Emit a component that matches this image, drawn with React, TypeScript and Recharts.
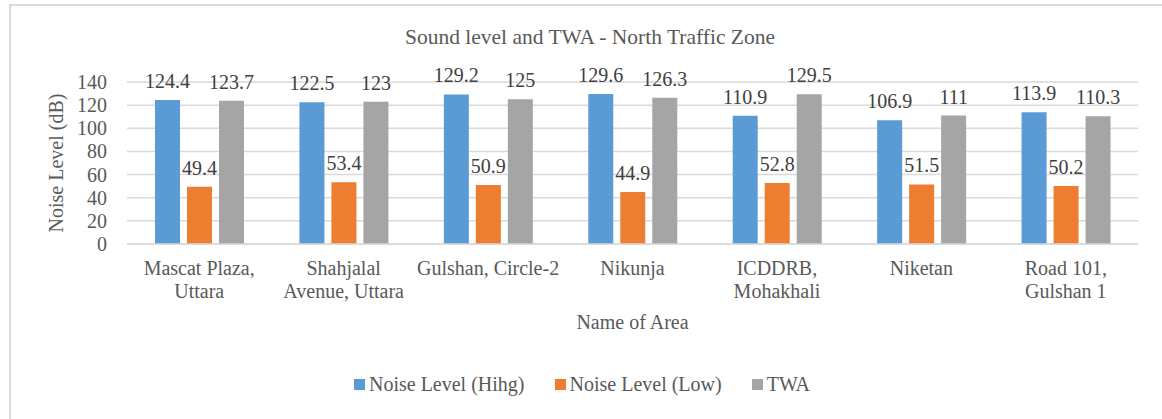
import {Bar, BarChart, CartesianGrid, LabelList, XAxis, YAxis} from "recharts";

const areas = [
    "Mascat Plaza,\nUttara",
    "Shahjalal\nAvenue, Uttara",
    "Gulshan, Circle-2",
    "Nikunja",
    "ICDDRB,\nMohakhali",
    "Niketan",
    "Road 101,\nGulshan 1",
];
const noiseHigh = [124.4, 122.5, 129.2, 129.6, 110.9, 106.9, 113.9];
const noiseLow = [49.4, 53.4, 50.9, 44.9, 52.8, 51.5, 50.2];
const twa = [123.7, 123, 125, 126.3, 129.5, 111, 110.3];
const yTicks = [0, 20, 40, 60, 80, 100, 120, 140];

const series = [
    {key: "high", name: "Noise Level (Hihg)", color: "#5B9BD5"},
    {key: "low", name: "Noise Level (Low)", color: "#ED7D31"},
    {key: "twa", name: "TWA", color: "#A5A5A5"},
];

const data = areas.map((area, i) => ({
    area,
    high: noiseHigh[i],
    low: noiseLow[i],
    twa: twa[i],
}));

const FONT = "'Liberation Serif', 'Times New Roman', serif";
const TEXT = "#595959";

const AreaTick = (props: any) => {
    const {x, y, payload} = props;
    const lines = String(payload.value).split("\n");
    return (
        <text x={x} y={y + 29} textAnchor="middle" fill={TEXT} fontSize={20} style={{fontFamily: FONT}}>
            {lines.map((line, i) => (
                <tspan key={i} x={x} dy={i === 0 ? 0 : 23}>{line}</tspan>
            ))}
        </text>
    );
};

const ValueTick = (props: any) => {
    const {x, y, payload} = props;
    return (
        <text x={x} y={y} dy={7} textAnchor="end" fill={TEXT} fontSize={20} style={{fontFamily: FONT}}>
            {payload.value}
        </text>
    );
};

const BarValue = (props: any) => {
    const {x, y, width, value} = props;
    return (
        <text x={x + width / 2} y={y - 12} textAnchor="middle" fill="#404040" fontSize={20}
              style={{fontFamily: FONT}}>
            {value}
        </text>
    );
};

const App = () => {
    return (
        <div style={{
            position: "absolute", left: 0, top: 0, width: 1162, height: 419, overflow: "hidden",
            background: "#fff", fontFamily: FONT
        }}>
            <div style={{
                position: "absolute", left: 9, top: 4, width: 1200, height: 500,
                border: "2px solid #d9d9d9", boxSizing: "border-box"
            }}/>
            <div style={{
                position: "absolute", left: 390, width: 400, top: 24, textAlign: "center",
                fontSize: 21.5, color: TEXT, lineHeight: "26px", whiteSpace: "nowrap"
            }}>
                Sound level and TWA - North Traffic Zone
            </div>
            <div style={{position: "absolute", left: 0, top: 0}}>
                <BarChart
                    width={1162}
                    height={419}
                    data={data}
                    margin={{top: 82, right: 24, left: 67, bottom: 75}}
                    barSize={25}
                    barGap={7}
                >
                    <CartesianGrid vertical={false} stroke="#d9d9d9" strokeWidth={1.5}/>
                    <XAxis
                        dataKey="area"
                        height={100}
                        interval={0}
                        tickLine={false}
                        tickSize={0}
                        axisLine={{stroke: "#d9d9d9", strokeWidth: 1.5}}
                        tick={<AreaTick/>}
                        label={{
                            content: ({viewBox}: any) => (
                                <text x={viewBox.x + viewBox.width / 2} y={viewBox.y + 85} textAnchor="middle"
                                      fill={TEXT} fontSize={20} style={{fontFamily: FONT}}>Name of Area</text>
                            )
                        }}
                    />
                    <YAxis
                        width={60}
                        domain={[0, 140]}
                        ticks={yTicks}
                        interval={0}
                        tickLine={false}
                        axisLine={false}
                        tickSize={0}
                        tickMargin={20}
                        tick={<ValueTick/>}
                        label={{
                            content: () => (
                                <text x={63} y={163} transform="rotate(-90, 63, 163)" textAnchor="middle"
                                      fill={TEXT} fontSize={20} style={{fontFamily: FONT}}>Noise Level (dB)</text>
                            )
                        }}
                    />
                    {series.map((s) => (
                        <Bar key={s.key} dataKey={s.key} name={s.name} fill={s.color} isAnimationActive={false}>
                            <LabelList dataKey={s.key} content={<BarValue/>}/>
                        </Bar>
                    ))}
                </BarChart>
            </div>
            <div style={{
                position: "absolute", left: 0, width: 1164, top: 372, display: "flex",
                justifyContent: "center", fontSize: 20, color: TEXT, lineHeight: "24px"
            }}>
                {series.map((s, i) => (
                    <div key={s.key} style={{display: "flex", alignItems: "center", marginLeft: i === 0 ? 0 : 30}}>
                        <span style={{display: "inline-block", width: 11, height: 11, background: s.color, marginRight: 4}}/>
                        <span>{s.name}</span>
                    </div>
                ))}
            </div>
        </div>
    );
};

export default App;
